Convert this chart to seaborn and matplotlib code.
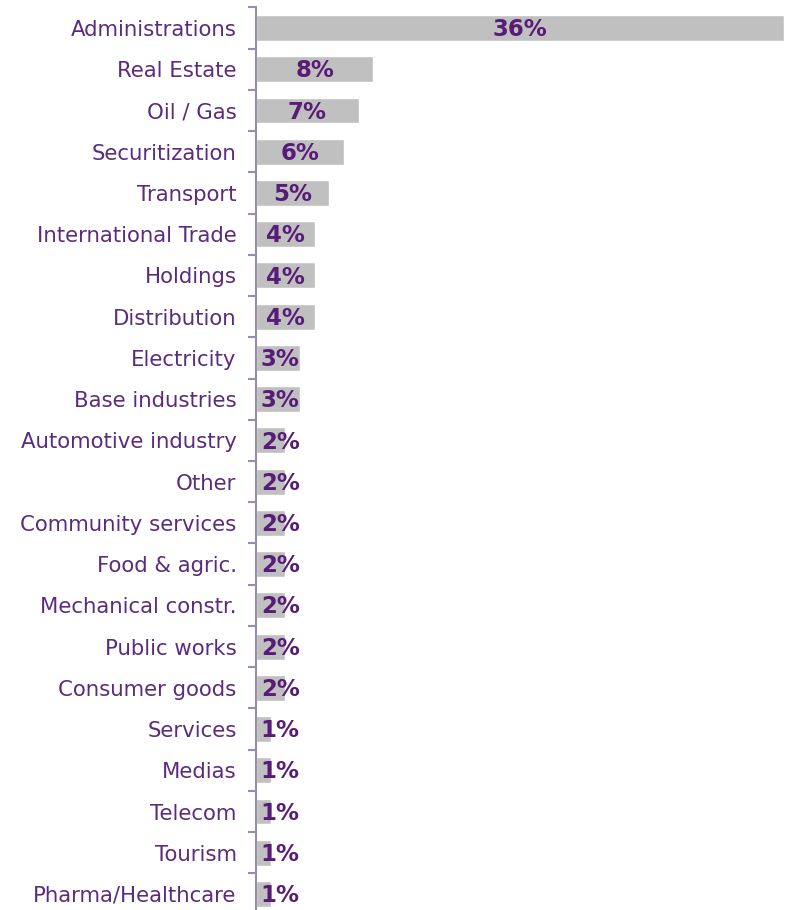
import matplotlib
matplotlib.use("Agg")
import matplotlib.pyplot as plt
import seaborn as sns
import pandas as pd
import numpy as np

# sector shares (%)
sectors = ["Administrations", "Real Estate", "Oil / Gas", "Securitization", "Transport",
           "International Trade", "Holdings", "Distribution", "Electricity", "Base industries",
           "Automotive industry", "Other", "Community services", "Food & agric.",
           "Mechanical constr.", "Public works", "Consumer goods", "Services", "Medias",
           "Telecom", "Tourism", "Pharma/Healthcare"]
shares = [36, 8, 7, 6, 5, 4, 4, 4, 3, 3, 2, 2, 2, 2, 2, 2, 2, 1, 1, 1, 1, 1]

TEXT = "#5b2c7d"
LABEL = "#581c78"
AXIS = "#9c8cab"

df = pd.DataFrame({"sector": sectors, "share": shares})

sns.set_style("white")
plt.rcParams["font.family"] = ["DejaVu Sans"]

fig = plt.figure(figsize=(7.86, 9.10), dpi=100)
ax = fig.add_axes([256 / 786, -4.6 / 910, 530 / 786, 907.2 / 910])

sns.barplot(data=df, y="sector", x="share", orient="h", color="#c0c0c0",
            width=0.63, saturation=1, ax=ax)

ax.set_xlim(0, 530 / 528 * 36)
ax.set_ylim(len(sectors) - 0.5, -0.5)
ax.set_xlabel("")
ax.set_ylabel("")
ax.set_xticks([])

for s in ["top", "right", "bottom"]:
    ax.spines[s].set_visible(False)
ax.spines["left"].set_color(AXIS)
ax.spines["left"].set_linewidth(1.5)

ax.tick_params(axis="y", which="major", left=False, length=0, pad=14, labelsize=15.3,
               labelcolor=TEXT)
ax.set_yticks(np.arange(len(sectors) + 1) - 0.5, minor=True)
ax.tick_params(axis="y", which="minor", left=True, length=6, width=1.5, color=AXIS,
               direction="out")

for i, v in enumerate(shares):
    xpos = max(v / 2, 1.65)
    ax.text(xpos, i + 0.04, f"{v}%", ha="center", va="center", fontsize=16.5,
            fontweight="bold", color=LABEL)

fig.savefig("out.png", dpi=100)
